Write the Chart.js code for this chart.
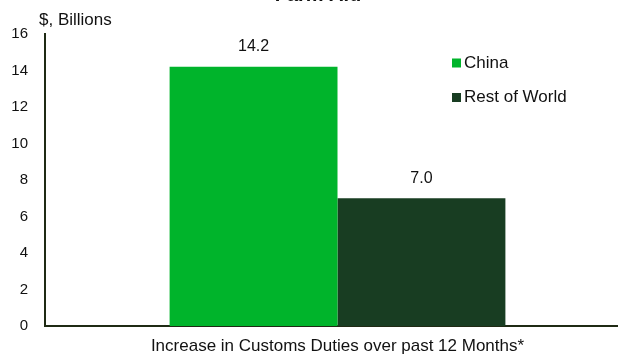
<!DOCTYPE html>
<html lang="en">
<head>
    <meta charset="UTF-8">
    <title>Farm Aid</title>
    <script src="https://cdn.jsdelivr.net/npm/chart.js"></script>
    <style>
        html, body {
            margin: 0;
            padding: 0;
            background: #ffffff;
            overflow: hidden;
        }
        canvas {
            display: block;
        }
    </style>
</head>
<body>
    <canvas id="farmAidChart" width="630" height="354"></canvas>

    <script>
        // chart data
        const chartTitle = "Farm Aid";
        const unitLabel = "$, Billions";
        const categories = ["Increase in Customs Duties over past 12 Months*"];
        const seriesNames = ["China", "Rest of World"];
        const chinaValues = [14.2];
        const restOfWorldValues = [7.0];
        const yTicks = [0, 2, 4, 6, 8, 10, 12, 14, 16];

        const seriesColors = ["#00b42b", "#183d22"];
        const axisColor = "#1f2a14";
        const fontFamily = "'Liberation Sans', Arial, sans-serif";

        // extra text: title, unit label, value labels, legend
        const extrasPlugin = {
            id: "extras",
            afterDatasetsDraw(chart) {
                const ctx = chart.ctx;
                ctx.save();
                ctx.fillStyle = "#111111";

                // title (mostly cut off at the top)
                ctx.font = "bold 20px " + fontFamily;
                ctx.textAlign = "center";
                ctx.textBaseline = "alphabetic";
                ctx.fillText(chartTitle, 318, 0.5);

                // unit label
                ctx.font = "17px " + fontFamily;
                ctx.textAlign = "left";
                ctx.textBaseline = "middle";
                ctx.fillText(unitLabel, 39, 20);

                // value labels above bars
                ctx.font = "16px " + fontFamily;
                ctx.textAlign = "center";
                chart.data.datasets.forEach((ds, i) => {
                    const meta = chart.getDatasetMeta(i);
                    meta.data.forEach((bar, j) => {
                        ctx.fillText(ds.data[j].toFixed(1), bar.x, bar.y - 20);
                    });
                });

                // legend
                ctx.font = "17px " + fontFamily;
                ctx.textAlign = "left";
                seriesNames.forEach((name, i) => {
                    const y = 63 + i * 34.5;
                    ctx.fillStyle = seriesColors[i];
                    ctx.fillRect(452, y - 4.5, 9, 9);
                    ctx.fillStyle = "#111111";
                    ctx.fillText(name, 464, y);
                });
                ctx.restore();
            }
        };

        const ctx = document.getElementById("farmAidChart").getContext("2d");
        new Chart(ctx, {
            type: "bar",
            data: {
                labels: categories,
                datasets: [
                    {
                        label: seriesNames[0],
                        data: chinaValues,
                        backgroundColor: seriesColors[0]
                    },
                    {
                        label: seriesNames[1],
                        data: restOfWorldValues,
                        backgroundColor: seriesColors[1]
                    }
                ]
            },
            options: {
                responsive: false,
                animation: false,
                layout: {
                    padding: { top: 34, left: 0, right: 0, bottom: 0 }
                },
                datasets: {
                    bar: {
                        categoryPercentage: 0.574,
                        barPercentage: 1.0
                    }
                },
                plugins: {
                    legend: { display: false },
                    tooltip: { enabled: false },
                    title: { display: false }
                },
                scales: {
                    x: {
                        grid: { display: false, drawTicks: false },
                        border: { display: true, color: axisColor, width: 2 },
                        ticks: {
                            color: "#111111",
                            font: { family: fontFamily, size: 17 },
                            padding: 10,
                            maxRotation: 0,
                            autoSkip: false
                        },
                        afterFit(scale) {
                            scale.height = 28;
                        }
                    },
                    y: {
                        min: 0,
                        max: 16,
                        afterBuildTicks(scale) {
                            scale.ticks = yTicks.map(v => ({ value: v }));
                        },
                        grid: { display: false, drawTicks: false },
                        border: { display: true, color: axisColor, width: 2 },
                        ticks: {
                            color: "#111111",
                            font: { family: fontFamily, size: 15 },
                            padding: 17
                        },
                        afterFit(scale) {
                            scale.width = 45;
                        }
                    }
                }
            },
            plugins: [extrasPlugin]
        });
    </script>
</body>
</html>
